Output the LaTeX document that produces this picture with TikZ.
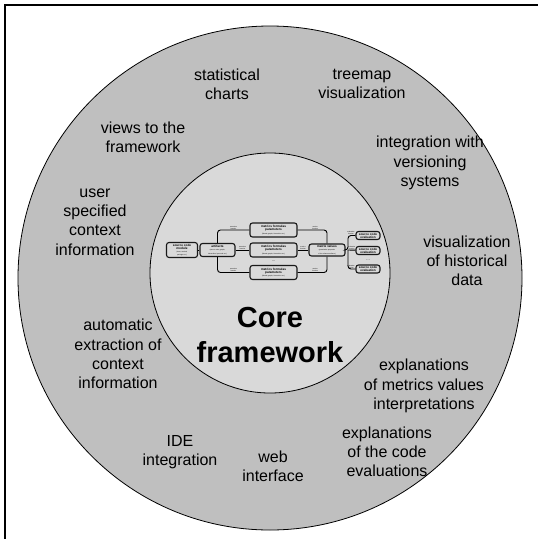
\documentclass[tikz,border=0pt]{standalone}
\usepackage{fontspec}
\setmainfont{Liberation Sans}
\usetikzlibrary{positioning}

% small print inside the little flow boxes
\newcommand{\subtext}[1]{{\fontsize{1.6}{1.9}\selectfont\mdseries #1}}

\begin{document}
\begin{tikzpicture}[x=1pt,y=-1pt,
    feature/.style={align=center,font=\fontsize{16}{19.2}\selectfont},
    tinybox/.style={draw=black!90,line width=1.1pt,rounded corners=2.5pt,fill=black!15,
      align=center,inner sep=0.7pt,font=\fontsize{3.1}{3.2}\selectfont\bfseries},
    tinylabel/.style={font=\fontsize{1.6}{1.8}\selectfont,align=center,inner sep=0.4pt},
    link/.style={line width=0.9pt,rounded corners=3pt}]
  \useasboundingbox (0,0) rectangle (538,539);
  \clip (0,0) rectangle (538,539);

  % frame and the two rings
  \draw[line width=2pt] (5,600) -- (5,5) -- (600,5);
  \draw[fill=black!25,line width=0.8pt] (270,278) circle (252);
  \draw[fill=black!15,line width=0.8pt] (270,273) circle (120);

  % features around the core
  \node[feature] (charts)     at (227,84)  {statistical\\charts};
  \node[feature] (treemap)    at (362,84)  {treemap\\visualization};
  \node[feature] (views)      at (143,137) {views to the\\framework};
  \node[feature] (versioning) at (430,163) {integration with\\versioning\\systems};
  \node[feature] (user)       at (95,222)  {user\\specified\\context\\information};
  \node[feature] (history)    at (467,261) {visualization\\of historical\\data};
  \node[feature] (extraction) at (118,354) {automatic\\extraction of\\context\\information};
  \node[feature] (metricexpl) at (424,386) {explanations\\of metrics values\\interpretations};
  \node[feature] (ide)        at (180,452) {IDE\\integration};
  \node[feature] (codeexpl)   at (387,452) {explanations\\of the code\\evaluations};
  \node[feature] (web)        at (273,466) {web\\interface};

  \node[font=\fontsize{29}{35}\selectfont\bfseries,align=center] (core) at (270,335) {Core\\framework};

  % the little flow inside the core
  \node[tinybox,minimum width=31pt,minimum height=15pt] (module) at (182,250)
    {source code\\module\\\subtext{(class, method,}\\\subtext{package etc.)}};
  \node[tinybox,minimum width=35pt,minimum height=13pt] (artifacts) at (217.5,250)
    {artifacts\\\subtext{(source code, graphs,}\\\subtext{hierarchies, bytecode etc.)}};
  \foreach \n/\y in {1/230,2/250,3/272.5}
    \node[tinybox,minimum width=47pt,minimum height=14pt] (metrics\n) at (273.5,\y)
      {metrics formulas\\parameters\\\subtext{(filtered graphs, hierarchies etc.)}};
  \node[font=\fontsize{4}{4}\selectfont] (dotsA) at (273.5,261) {\dots};
  \node[tinybox,minimum width=36pt,minimum height=12pt] (values) at (327,250)
    {matrix values\\\subtext{(quantitative properties}\\\subtext{of the software artifacts)}};
  \foreach \n/\y in {1/235.5,2/250.5,3/269}
    \node[tinybox,minimum width=24pt,minimum height=8pt] (eval\n) at (368,\y)
      {source code\\evaluation};
  \node[font=\fontsize{4}{4}\selectfont] (dotsB) at (368,260) {\dots};
  \coordinate (bus) at (348,250);

  \draw[link] (module) -- (artifacts);
  \draw[link] (artifacts.north) |- node[tinylabel,above,pos=0.75] {extraction\\function} (metrics1);
  \draw[link] (artifacts) -- node[tinylabel,above] {extraction\\function} (metrics2);
  \draw[link] (artifacts.south) |- node[tinylabel,above,pos=0.75] {extraction\\function} (metrics3);
  \draw[link] (metrics1) -| node[tinylabel,above,pos=0.3] {metrics\\function} (values);
  \draw[link] (metrics2) -- node[tinylabel,above] {metrics\\function} (values);
  \draw[link] (metrics3) -| node[tinylabel,above,pos=0.3] {metrics\\function} (values);
  \draw[link] (values) -- (bus) |- node[tinylabel,above,pos=0.7] {evaluation\\function} (eval1);
  \draw[link] (bus) -- node[tinylabel,above] {evaluation\\function} (eval2);
  \draw[link] (bus) |- node[tinylabel,above,pos=0.7] {evaluation\\function} (eval3);
\end{tikzpicture}
\end{document}
